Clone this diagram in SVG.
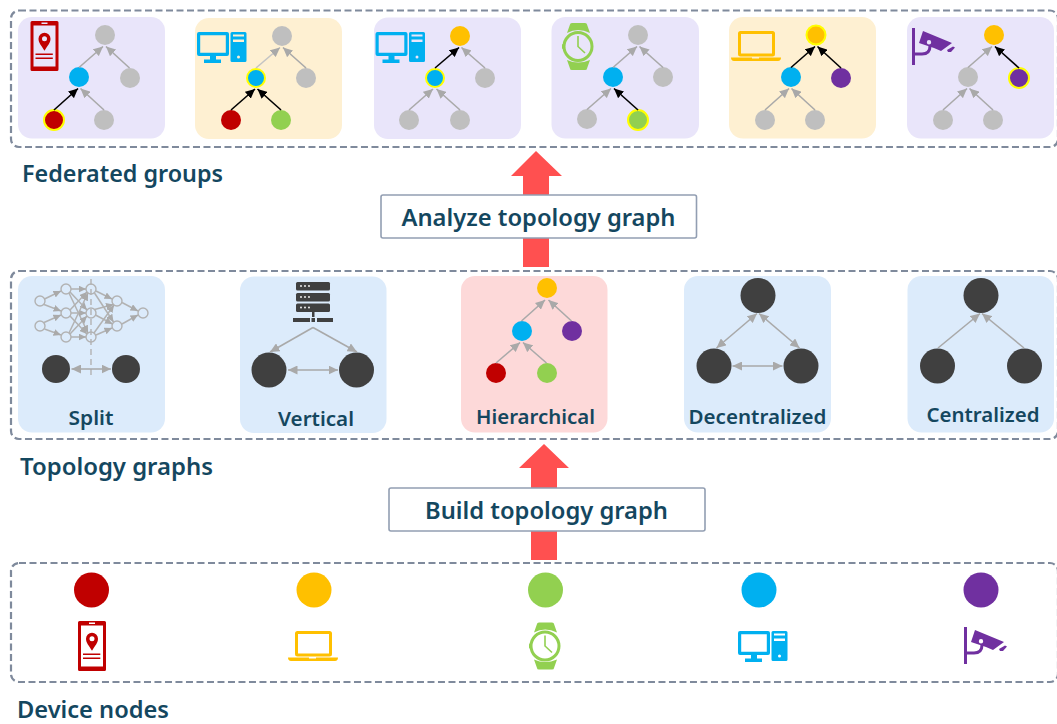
<svg xmlns="http://www.w3.org/2000/svg" xmlns:xlink="http://www.w3.org/1999/xlink" width="1057" height="724" viewBox="0 0 1057 724">
<style>
.panel{fill:none;stroke:#7f8a9c;stroke-width:2.2;stroke-dasharray:7 3.5}
.lav{fill:#e9e5fa}.cream{fill:#fef0d2}.blue{fill:#dcebfb}.pink{fill:#fdd9d9}
.box{fill:#fff;stroke:#929eb2;stroke-width:1.6}
text{font-family:"Noto Sans","Open Sans","Liberation Sans",sans-serif;font-weight:600;fill:#14475f}
.h{font-size:23px}.c{font-size:20px}.b{font-size:24px}
.e{stroke:#a9a9a9;stroke-width:1.6;fill:none;marker-end:url(#ag)}
.k{stroke:#000;stroke-width:1.6;fill:none;marker-end:url(#ak)}
.d{stroke:#a9a9a9;stroke-width:1.6;fill:none;marker-end:url(#ag);marker-start:url(#ag)}
.n{stroke:#b2b2b2;stroke-width:1.5;fill:none;marker-end:url(#as)}
.o{fill:none;stroke:#b2b2b2;stroke-width:1.4}
.gr{fill:#bfbfbf}.re{fill:#c00000}.ye{fill:#ffc000}.gn{fill:#92d050}.bl{fill:#00b0f0}.pu{fill:#7030a0}.dk{fill:#404040}
.hl{stroke:#ffff00;stroke-width:2}
.big{fill:#ff5050}
</style>
<defs>
<marker id="ag" markerUnits="userSpaceOnUse" markerWidth="10" markerHeight="9" refX="9.500" refY="4.500" orient="auto-start-reverse"><path d="M0 0L9.500 4.500L0 9z" fill="#a9a9a9"/></marker>
<marker id="ak" markerUnits="userSpaceOnUse" markerWidth="10" markerHeight="9" refX="9.500" refY="4.500" orient="auto"><path d="M0 0L9.500 4.500L0 9z" fill="#000"/></marker>
<marker id="as" markerUnits="userSpaceOnUse" markerWidth="8" markerHeight="7" refX="7.500" refY="3.500" orient="auto"><path d="M0 0L7.500 3.500L0 7z" fill="#aaa"/></marker>
<g id="phone">
<path fill="#c00000" fill-rule="evenodd" d="M1.500 0H26.500A1.500 1.500 0 0 1 28 1.500V48.500A1.500 1.500 0 0 1 26.500 50H1.500A1.500 1.500 0 0 1 0 48.500V1.500A1.500 1.500 0 0 1 1.500 0ZM3 4.500V45.500H25V4.500ZM11 1.500V3H17V1.500Z"/>
<path fill="#c00000" fill-rule="evenodd" d="M14 29.700C11 24.500 8 22 8 17.700A6 6 0 0 1 20 17.700C20 22 17 24.500 14 29.700ZM14 15.200A2.500 2.500 0 1 0 14 20.200A2.500 2.500 0 1 0 14 15.200Z"/>
<path stroke="#c00000" stroke-width="1.600" d="M5 33.200H22.300M5 37.200H22.300"/>
</g>
<g id="laptop">
<rect x="8.500" y="1.500" width="34" height="22.500" rx="1" fill="none" stroke="#ffc000" stroke-width="3"/>
<path fill="#ffc000" d="M0 26.500H21V27.500H28V26.500H50C50 28.500 49 30 47 30H3C1 30 0 28.500 0 26.500Z"/>
</g>
<g id="watch">
<path fill="#92d050" d="M8 1.500Q8 0 10 0H23Q25 0 25 1.500L28 10Q16 4 5 10Z"/>
<path fill="#92d050" d="M5 37Q16 42 28 37L25 45.500Q25 47 23 47H10Q8 47 8 45.500Z"/>
<circle cx="16" cy="23.500" r="14" fill="none" stroke="#92d050" stroke-width="3"/>
<rect x="0" y="21" width="3" height="5" rx="1" fill="#92d050"/>
<path fill="none" stroke="#92d050" stroke-width="1.600" d="M16 13V23.500L23 30"/>
</g>
<g id="desktop">
<path fill="#00b0f0" fill-rule="evenodd" d="M2 0H30A2 2 0 0 1 32 2V22A2 2 0 0 1 30 24H2A2 2 0 0 1 0 22V2A2 2 0 0 1 2 0ZM3.200 3.200V20.800H28.800V3.200Z"/>
<path fill="#00b0f0" d="M13 24H19V27.500H24V31H7V27.500H13Z"/>
<path fill="#00b0f0" fill-rule="evenodd" d="M35 0H48A1.500 1.500 0 0 1 49.500 1.500V28.500A1.500 1.500 0 0 1 48 30H35A1.500 1.500 0 0 1 33.500 28.500V1.500A1.500 1.500 0 0 1 35 0ZM36 2.500V4.500H47V2.500ZM36 7.500V10H47V7.500ZM41.500 23.500A1.500 1.500 0 1 0 41.500 26.500A1.500 1.500 0 1 0 41.500 23.500Z"/>
</g>
<g id="camera">
<rect x="0" y="0" width="3" height="37" fill="#7030a0"/>
<path fill="#7030a0" fill-rule="evenodd" d="M11 3L40 15L29 23L22 20L7 15ZM17 12A2.200 2.200 0 1 0 17 16.400A2.200 2.200 0 1 0 17 12Z"/>
<path fill="#7030a0" d="M35 22L41 18.500L43 19.500L39 24L36 24Z"/>
<path fill="none" stroke="#7030a0" stroke-width="3" d="M1 26H10Q18 26 18 18"/>
</g>
</defs>
<rect width="1057" height="724" fill="#fff"/>

<g id="panels">
<rect id="panel-federated" class="panel" x="11" y="10.500" width="1047" height="136.500" rx="8"/>
<rect id="panel-topology" class="panel" x="11" y="271" width="1047" height="168" rx="8"/>
<rect id="panel-devices" class="panel" x="11" y="563" width="1047" height="119" rx="8"/>
</g>

<g id="card-phone">
<rect class="lav" x="18" y="17" width="147" height="121.500" rx="14"/>
<use xlink:href="#phone" href="#phone" x="30.500" y="21"/>
<circle class="gr" cx="105" cy="35" r="10"/><circle class="bl" cx="79" cy="77" r="10"/><circle class="gr" cx="130" cy="78" r="10"/><circle class="re hl" cx="54" cy="120" r="10"/><circle class="gr" cx="104" cy="120" r="10"/>
</g>
<g id="card-desktop-1">
<rect class="cream" x="195" y="18" width="147" height="121" rx="14"/>
<use xlink:href="#desktop" href="#desktop" x="197" y="32"/>
<circle class="gr" cx="282" cy="36" r="10"/><circle class="bl hl" cx="256" cy="78" r="9"/><circle class="gr" cx="306" cy="78" r="10"/><circle class="re" cx="231" cy="120" r="10"/><circle class="gn" cx="281" cy="120" r="10"/>
</g>
<g id="card-desktop-2">
<rect class="lav" x="374" y="17.500" width="147" height="121.500" rx="14"/>
<use xlink:href="#desktop" href="#desktop" x="375.500" y="32"/>
<circle class="ye" cx="460" cy="36" r="10"/><circle class="bl hl" cx="435" cy="78" r="9"/><circle class="gr" cx="485" cy="78" r="10"/><circle class="gr" cx="409" cy="120" r="10"/><circle class="gr" cx="460" cy="120" r="10"/>
</g>
<g id="card-watch">
<rect class="lav" x="551.500" y="17" width="147.500" height="121.500" rx="14"/>
<use xlink:href="#watch" href="#watch" x="562" y="23"/>
<circle class="gr" cx="638" cy="35" r="10"/><circle class="bl" cx="613" cy="77" r="10"/><circle class="gr" cx="663" cy="77" r="10"/><circle class="gr" cx="587" cy="119" r="10"/><circle class="gn hl" cx="638" cy="120" r="10"/>
</g>
<g id="card-laptop">
<rect class="cream" x="729" y="17" width="147" height="121.500" rx="14"/>
<use xlink:href="#laptop" href="#laptop" x="731" y="31"/>
<circle class="ye hl" cx="816" cy="35" r="9.500"/><circle class="bl" cx="791" cy="77" r="10"/><circle class="pu" cx="841" cy="78" r="10"/><circle class="gr" cx="765" cy="120" r="10"/><circle class="gr" cx="815" cy="120" r="10"/>
</g>
<g id="card-camera">
<rect class="lav" x="907" y="17" width="147" height="121.500" rx="14"/>
<use xlink:href="#camera" href="#camera" x="912" y="28"/>
<circle class="ye" cx="994" cy="35" r="10"/><circle class="gr" cx="968" cy="77" r="10"/><circle class="pu hl" cx="1019" cy="78" r="10"/><circle class="gr" cx="943" cy="120" r="10"/><circle class="gr" cx="993" cy="120" r="10"/>
</g>

<g id="split">
<rect class="blue" x="18" y="276" width="147" height="156.500" rx="14"/>
<g id="split-net">
<circle class="o" cx="40" cy="301" r="5"/><circle class="o" cx="40" cy="326" r="5"/>
<circle class="o" cx="66" cy="289" r="5"/><circle class="o" cx="66" cy="313" r="5"/><circle class="o" cx="66" cy="337" r="5"/>
<circle class="o" cx="91" cy="289" r="5"/><circle class="o" cx="91" cy="313" r="5"/><circle class="o" cx="91" cy="337" r="5"/>
<circle class="o" cx="117" cy="301" r="5"/><circle class="o" cx="117" cy="326" r="5"/>
<circle class="o" cx="143" cy="313" r="5"/>
</g>
<circle class="dk" cx="56" cy="369" r="14"/><circle class="dk" cx="126" cy="369" r="14"/>
<text class="c" x="91" y="425" text-anchor="middle" textLength="45" lengthAdjust="spacingAndGlyphs">Split</text>
</g>
<g id="vertical">
<rect class="blue" x="240" y="276.500" width="146.500" height="156.500" rx="14"/>
<g id="server" fill="#404040">
<rect x="296" y="282" width="34" height="8.500" rx="1.500"/><rect x="296" y="293" width="34" height="8.500" rx="1.500"/><rect x="296" y="303.500" width="34" height="8.500" rx="1.500"/>
<rect x="312" y="312" width="2.500" height="5"/><rect x="293" y="318" width="17" height="4"/><rect x="311.500" y="318" width="3.500" height="4"/><rect x="317" y="318" width="16" height="4"/>
<g fill="#fff"><circle cx="301" cy="286" r=".9"/><circle cx="305" cy="286" r=".9"/><circle cx="309" cy="286" r=".9"/><circle cx="301" cy="297" r=".9"/><circle cx="305" cy="297" r=".9"/><circle cx="309" cy="297" r=".9"/><circle cx="301" cy="307.500" r=".9"/><circle cx="305" cy="307.500" r=".9"/><circle cx="309" cy="307.500" r=".9"/></g>
</g>
<circle class="dk" cx="269" cy="370" r="17.500"/><circle class="dk" cx="356.500" cy="370" r="17.500"/>
<text class="c" x="316" y="426" text-anchor="middle" textLength="76" lengthAdjust="spacingAndGlyphs">Vertical</text>
</g>
<g id="hierarchical">
<rect class="pink" x="461" y="276" width="146.500" height="156.500" rx="14"/>
<circle class="ye" cx="547" cy="288" r="10"/><circle class="bl" cx="522" cy="331" r="10"/><circle class="pu" cx="572" cy="331" r="10"/><circle class="re" cx="496" cy="373" r="10"/><circle class="gn" cx="547" cy="373" r="10"/>
<text class="c" x="535.500" y="424" text-anchor="middle" textLength="119" lengthAdjust="spacingAndGlyphs">Hierarchical</text>
</g>
<g id="decentralized">
<rect class="blue" x="684" y="276" width="147" height="156.500" rx="14"/>
<circle class="dk" cx="758" cy="295.500" r="17.500"/><circle class="dk" cx="714" cy="366" r="17.500"/><circle class="dk" cx="801" cy="366" r="17.500"/>
<text class="c" x="757.500" y="424" text-anchor="middle" textLength="138" lengthAdjust="spacingAndGlyphs">Decentralized</text>
</g>
<g id="centralized">
<rect class="blue" x="907.500" y="276" width="146.500" height="156.500" rx="14"/>
<circle class="dk" cx="981" cy="295.500" r="17.500"/><circle class="dk" cx="937.500" cy="366" r="17.500"/><circle class="dk" cx="1024.500" cy="366" r="17.500"/>
<text class="c" x="983" y="422" text-anchor="middle" textLength="113" lengthAdjust="spacingAndGlyphs">Centralized</text>
</g>

<g id="devices">
<g id="device-phone"><circle class="re" cx="91.500" cy="590" r="17.500"/><use xlink:href="#phone" href="#phone" x="78" y="621"/></g>
<g id="device-laptop"><circle class="ye" cx="314" cy="590" r="17.500"/><use xlink:href="#laptop" href="#laptop" x="288" y="631"/></g>
<g id="device-watch"><circle class="gn" cx="545.500" cy="590" r="17.500"/><use xlink:href="#watch" href="#watch" x="529" y="622.500"/></g>
<g id="device-desktop"><circle class="bl" cx="759" cy="590" r="17.500"/><use xlink:href="#desktop" href="#desktop" x="738" y="631"/></g>
<g id="device-camera"><circle class="pu" cx="981" cy="590" r="17.500"/><use xlink:href="#camera" href="#camera" x="964" y="627"/></g>
</g>

<g id="connectors">
<path class="big" d="M536 151L562 176H549V267H523V176H511Z"/>
<path class="big" d="M544 444L569 468H557V560H531V468H519Z"/>
<path class="e" d="M79 67.500L103 46.500"/><path class="e" d="M129.500 68L106 46.500"/><path class="k" d="M54 110L78 88.500"/><path class="e" d="M104 110L80.500 88.500"/>
<path class="e" d="M256 68L280 47.500" style="stroke:#c4c4c4"/><path class="e" d="M306 68L283 47.500"/><path class="k" d="M231 110L255 89"/><path class="k" d="M281 110L257.500 89"/>
<path class="k" d="M435 68L459 47.500"/><path class="e" d="M485 68L461.500 47.500"/><path class="e" d="M409 110L433 89"/><path class="e" d="M460 110L436.500 89"/>
<path class="e" d="M613 67.500L637 46.500"/><path class="e" d="M663 67.500L639.500 46.500"/><path class="e" d="M587 109.500L611 88.500"/><path class="k" d="M638 110L614 88.500"/>
<path class="k" d="M791 67.500L815 46.500"/><path class="k" d="M841 68L817.500 46.500"/><path class="e" d="M765 110L789 88.500"/><path class="e" d="M815 110L791.500 88.500"/>
<path class="e" d="M968 67.500L992 46.500"/><path class="k" d="M1019 68L995 46.500"/><path class="e" d="M943 110L967 88.500"/><path class="e" d="M993 110L969.500 88.500"/>
<path class="n" d="M44.500 299L61 291"/><path class="n" d="M44 304.500L61 311"/><path class="n" d="M44 322.500L61 315"/><path class="n" d="M44.500 329L61 335"/>
<path class="n" d="M71 289H86"/><path class="n" d="M70 292L87 310"/><path class="n" d="M69 293L88 333"/>
<path class="n" d="M70 310L87 292"/><path class="n" d="M71 313H86"/><path class="n" d="M70 316L87 334"/>
<path class="n" d="M69 333L88 293"/><path class="n" d="M70 334L87 316"/><path class="n" d="M71 337H86"/>
<path class="n" d="M96 291L112 299"/><path class="n" d="M94.500 293L113.500 322"/>
<path class="n" d="M94.500 309.500L113.500 304.500"/><path class="n" d="M95.500 315L112.500 324"/>
<path class="n" d="M94 333L114 305"/><path class="n" d="M96 335L112 328"/>
<path class="n" d="M122 302.500L138 311"/><path class="n" d="M122 324L138 315"/>
<path d="M91 279V377" fill="none" stroke="#b2b2b2" stroke-width="1.400" stroke-dasharray="6 4"/>
<path class="d" d="M71.500 369H111"/>
<path class="e" d="M313 327.500L270 352"/><path class="e" d="M313 327.500L357 352"/><path class="d" d="M288 370H338"/>
<path class="e" d="M521.500 321L545 300"/><path class="e" d="M571.500 321L548.500 300"/><path class="e" d="M496 363L520 342.500"/><path class="e" d="M546.500 363L523 342.500"/>
<path class="d" d="M716.500 348L757 313.500"/><path class="d" d="M799.500 348L759 313.500"/><path class="d" d="M732.500 366H782.500"/>
<path class="e" d="M938 348L980 313.500"/><path class="e" d="M1024 348L982 313.500"/>
</g>

<g id="build-box"><rect class="box" x="389" y="488" width="316" height="43" rx="2"/><text class="b" x="546.500" y="519" text-anchor="middle" textLength="243" lengthAdjust="spacingAndGlyphs">Build topology graph</text></g>
<g id="analyze-box"><rect class="box" x="381" y="195" width="315.500" height="43" rx="2"/><text class="b" x="538.500" y="226" text-anchor="middle" textLength="274" lengthAdjust="spacingAndGlyphs">Analyze topology graph</text></g>

<g id="labels">
<text class="h" x="22" y="182" textLength="201" lengthAdjust="spacingAndGlyphs">Federated groups</text>
<text class="h" x="20" y="475" textLength="193" lengthAdjust="spacingAndGlyphs">Topology graphs</text>
<text class="h" x="17" y="717.500" textLength="152" lengthAdjust="spacingAndGlyphs">Device nodes</text>
</g>
</svg>
